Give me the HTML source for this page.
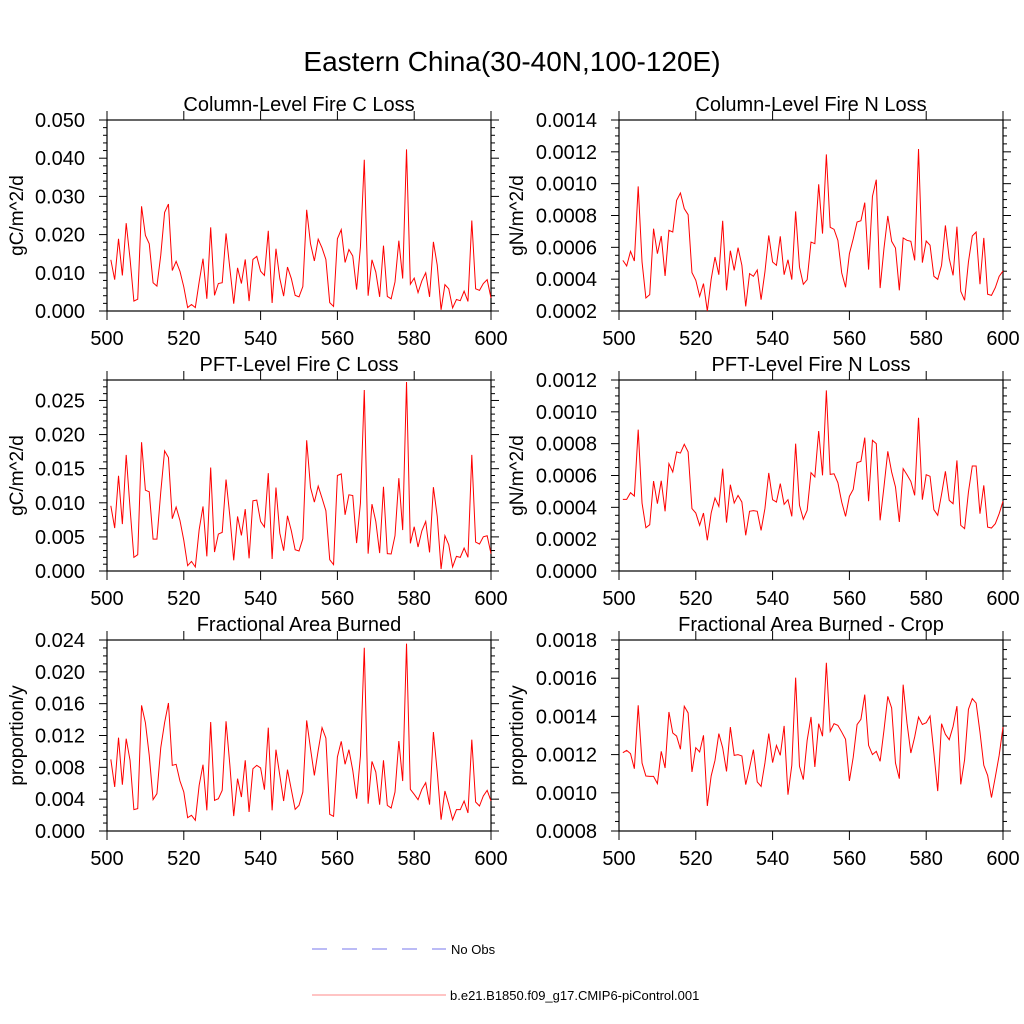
<!DOCTYPE html>
<html><head><meta charset="utf-8"><style>
body{margin:0;background:#fff;}
svg{display:block;font-family:"Liberation Sans",sans-serif;}
</style></head><body>
<svg id="c" width="1024" height="1024" viewBox="0 0 1024 1024">
<text x="512" y="71" font-size="28" text-anchor="middle">Eastern China(30-40N,100-120E)</text>
<g>
<line x1="312" y1="949" x2="446" y2="949" stroke="#7777ee" stroke-width="1" stroke-dasharray="15,15"/>
<text x="451" y="954" font-size="13">No Obs</text>
<line x1="312" y1="995" x2="446" y2="995" stroke="#ff8888" stroke-width="1"/>
<text x="450" y="1000" font-size="13">b.e21.B1850.f09_g17.CMIP6-piControl.001</text>
</g>
</svg>
<script>
const years = Array.from({length:100},(_, i)=>501+i);
const xTicks = [500,520,540,560,580,600];
// values in units shown by each panel (scaled: 1e-3 or 1e-4)
const fireCLoss = [13.4,8.2,18.9,9.3,23.0,13.7,2.6,3.1,27.4,19.8,17.6,7.4,6.5,14.6,25.8,28.0,10.6,13.0,10.4,6.3,0.9,1.7,0.9,7.6,13.7,3.2,21.9,4.1,7.2,7.4,20.3,11.1,1.9,11.3,7.2,13.5,2.6,13.5,14.3,10.4,9.3,21.0,2.1,16.3,8.5,3.9,11.5,8.5,4.1,3.7,6.4,26.5,17.6,13.1,18.8,16.5,13.5,2.2,1.2,18.9,21.3,12.7,16.1,14.4,5.6,16.8,39.6,4.0,13.4,10.2,3.7,17.1,3.8,3.2,7.6,18.4,8.5,42.3,7.0,8.6,4.8,7.9,10.0,3.7,18.1,12.0,0.3,6.9,5.8,0.8,3.0,2.7,5.2,2.5,23.7,5.8,5.4,7.2,8.2,3.4];
const fireNLoss = [5.18,4.83,5.75,5.14,9.83,5.08,2.82,3.03,7.17,5.60,6.71,4.20,7.07,6.96,8.95,9.41,8.43,8.05,4.41,3.93,2.92,3.72,2.0,3.99,5.39,4.28,7.67,3.30,5.79,4.55,5.98,4.87,2.29,4.35,4.18,4.58,2.71,4.45,6.75,5.08,4.87,6.69,4.28,5.22,3.97,8.26,4.76,3.68,3.97,6.33,6.23,9.96,6.86,11.84,7.26,7.13,6.44,4.39,3.49,5.60,6.54,7.59,7.67,8.81,4.60,9.20,10.25,3.44,5.92,7.97,6.38,5.96,3.30,6.59,6.44,6.38,5.18,12.18,5.04,6.40,6.13,4.18,3.99,4.87,7.38,5.29,4.24,7.30,3.24,2.67,5.08,6.71,6.96,3.68,6.59,3.05,2.98,3.47,4.18,4.51];
const pftCLoss = [9.56,6.29,13.95,6.88,17.02,9.22,2.0,2.39,18.88,11.85,11.61,4.68,4.68,11.56,17.61,16.63,7.66,9.37,7.41,4.49,0.78,1.41,0.59,6.05,9.46,2.15,15.17,2.78,5.41,5.66,13.41,8.0,1.56,8.0,5.22,9.07,1.85,10.29,10.39,7.27,6.44,14.34,1.76,12.24,5.56,2.98,8.10,5.90,3.12,2.93,4.73,19.17,12.24,10.10,12.44,10.68,8.83,1.66,0.93,14.0,14.24,8.24,11.17,11.07,4.10,9.95,26.54,2.54,9.80,7.27,2.63,12.34,2.54,2.49,5.17,13.61,6.0,27.71,4.05,6.49,3.51,5.90,7.27,2.73,12.29,8.0,0.29,5.17,3.85,0.59,2.15,2.0,3.37,2.0,17.02,4.24,3.95,5.02,5.17,2.54];
const pftNLoss = [4.50,4.50,4.92,4.71,8.88,4.27,2.72,2.91,5.65,4.23,5.67,3.75,6.74,6.22,7.48,7.41,7.96,7.48,3.92,3.64,2.87,3.64,1.93,3.64,4.59,4.06,6.43,3.04,5.42,4.27,4.75,4.33,2.24,3.75,3.79,3.75,2.55,3.92,6.16,4.48,4.33,5.49,4.19,4.48,3.43,8.0,4.13,3.25,3.81,6.18,5.91,8.79,6.01,11.35,6.07,6.11,5.55,4.33,3.43,4.69,5.13,6.81,6.89,8.38,4.38,8.21,8.0,3.18,5.28,7.52,6.22,5.28,3.08,6.43,6.05,5.63,4.75,9.63,4.48,6.05,5.95,3.85,3.50,4.82,6.26,4.44,4.23,6.95,2.87,2.66,4.96,6.60,6.60,3.60,5.38,2.76,2.70,2.97,3.60,4.38];
const areaBurned = [9.00,5.53,11.73,5.82,11.60,8.88,2.68,2.81,15.79,13.61,9.51,3.94,4.69,10.47,13.61,16.08,8.25,8.38,6.28,4.90,1.68,1.97,1.34,5.74,8.33,2.60,13.69,3.85,4.06,5.11,13.78,8.25,1.88,6.58,4.27,8.88,2.39,7.83,8.25,7.92,5.19,12.98,2.60,10.22,6.99,3.77,7.71,5.19,2.72,3.22,4.90,13.90,10.34,6.99,10.13,12.98,11.68,2.09,1.84,9.30,11.27,8.38,10.22,7.62,4.06,9.42,23.03,3.43,8.75,7.41,3.31,8.88,3.22,2.89,4.90,11.31,6.28,23.54,5.24,4.61,3.94,5.24,6.07,3.31,12.44,7.41,1.42,5.03,3.35,1.42,2.68,2.68,3.77,2.26,11.48,3.64,3.14,4.40,5.11,3.77];
const areaBurnedCrop = [12.10,12.22,12.05,11.26,14.58,11.56,10.88,10.86,10.86,10.48,12.17,11.30,14.23,13.13,12.97,12.28,14.53,14.18,11.09,12.36,12.14,13.01,9.31,10.88,11.70,13.10,12.36,11.12,13.44,11.96,12.0,11.93,10.43,11.30,12.26,10.57,10.34,11.56,13.10,11.58,12.48,11.96,13.50,9.90,11.44,16.03,11.39,10.69,12.75,13.97,11.35,13.62,12.96,16.81,13.22,13.62,13.53,13.18,12.80,10.62,11.87,13.57,13.85,15.14,12.48,12.0,12.17,11.65,13.27,15.05,14.44,11.56,10.74,15.66,13.65,12.08,12.92,13.97,13.58,13.67,14.02,12.08,10.09,13.62,13.06,12.78,13.48,14.54,10.44,11.73,14.37,14.93,14.70,13.18,11.44,10.91,9.75,10.83,11.96,13.44];

const panels = [
 {name:'fire-c-loss',title:'Column-Level Fire C Loss',ylab:'gC/m^2/d',data:fireCLoss,scale:1e-3,ymin:0,ymax:0.05,major:0.01,minorN:5,dec:3,x:107,y:120,yo:91},
 {name:'fire-n-loss',title:'Column-Level Fire N Loss',ylab:'gN/m^2/d',data:fireNLoss,scale:1e-4,ymin:0.0002,ymax:0.0014,major:0.0002,minorN:4,dec:4,x:619,y:120,yo:103},
 {name:'pft-c-loss',title:'PFT-Level Fire C Loss',ylab:'gC/m^2/d',data:pftCLoss,scale:1e-3,ymin:0,ymax:0.028,major:0.005,minorN:5,dec:3,x:107,y:380,yo:91},
 {name:'pft-n-loss',title:'PFT-Level Fire N Loss',ylab:'gN/m^2/d',data:pftNLoss,scale:1e-4,ymin:0,ymax:0.0012,major:0.0002,minorN:4,dec:4,x:619,y:380,yo:103},
 {name:'area-burned',title:'Fractional Area Burned',ylab:'proportion/y',data:areaBurned,scale:1e-3,ymin:0,ymax:0.024,major:0.004,minorN:4,dec:3,x:107,y:640,yo:91},
 {name:'area-burned-crop',title:'Fractional Area Burned - Crop',ylab:'proportion/y',data:areaBurnedCrop,scale:1e-4,ymin:0.0008,ymax:0.0018,major:0.0002,minorN:4,dec:4,x:619,y:640,yo:103}
];
const NS='http://www.w3.org/2000/svg';
const svg=document.getElementById('c');
function mk(tag,attrs,parent){const e=document.createElementNS(NS,tag);for(const k in attrs)e.setAttribute(k,attrs[k]);(parent||svg).appendChild(e);return e;}
const W=384,H=191;
panels.forEach(p=>{
  const g=mk('g',{});
  
  
  const xs=v=>p.x+(v-500)/100*W;
  const ys=v=>p.y+H-(v-p.ymin)/(p.ymax-p.ymin)*H;
  const t=mk('text',{x:p.x+W/2,y:p.y-9,'font-size':20,'text-anchor':'middle'},g);
  t.textContent=p.title;
  
  
  const yl=mk('text',{x:0,y:0,'font-size':19,'text-anchor':'middle',transform:`translate(${p.x-p.yo+7},${p.y+H/2}) rotate(-90)`},g);
  yl.textContent=p.ylab;
  
  
  const tg=mk('g',{stroke:'#000','stroke-width':1},g);
  
  
  xTicks.forEach(v=>{
    const X=xs(v);
    mk('line',{x1:X,y1:p.y+H,x2:X,y2:p.y+H+9},tg);
    mk('line',{x1:X,y1:p.y,x2:X,y2:p.y-9},tg);
    const lt=mk('text',{x:X,y:p.y+H+34,'font-size':20,'text-anchor':'middle'},g);
    lt.textContent=v;
    
    
  });
  const step=p.major/p.minorN;
  const nMin=Math.floor((p.ymax-p.ymin)/step+1e-6);
  for(let i=0;i<=nMin;i++){
    const v=p.ymin+i*step, Y=ys(v);
    const isMaj=i%p.minorN===0;
    const L=isMaj?8:4;
    mk('line',{x1:p.x,y1:Y,x2:p.x-L,y2:Y},tg);
    mk('line',{x1:p.x+W,y1:Y,x2:p.x+W+L,y2:Y},tg);
    if(isMaj){
      const lt=mk('text',{x:p.x-22,y:Y+7,'font-size':20,'text-anchor':'end'},g);
      lt.textContent=v.toFixed(p.dec);
      
      
    }
  }
  const fr=mk('rect',{x:p.x,y:p.y,width:W,height:H,fill:'none',stroke:'#000','stroke-width':1.2},g);
  
  
  const pts=p.data.map((d,i)=>xs(years[i]).toFixed(2)+','+ys(d*p.scale).toFixed(2)).join(' ');
  const pl=mk('polyline',{points:pts,fill:'none',stroke:'#ff0000','stroke-width':1},g);
  
  
});
</script>
</body></html>
